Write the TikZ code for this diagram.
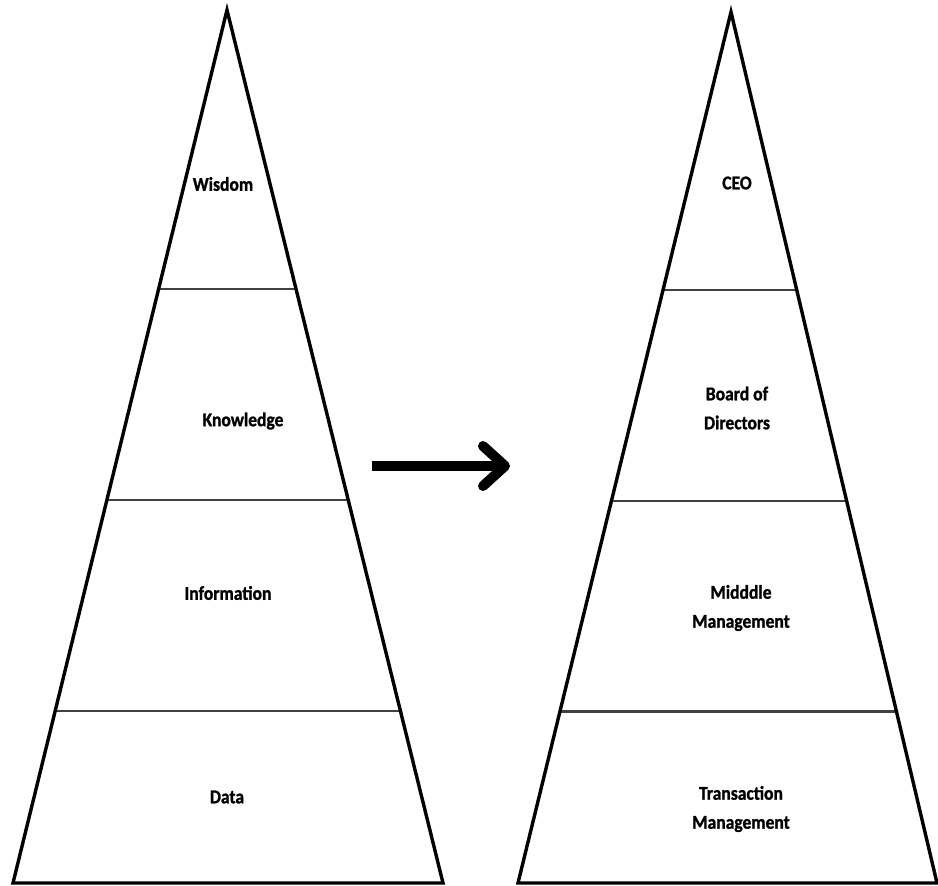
\documentclass[tikz,border=0pt]{standalone}
\usepackage{fontspec}
\setmainfont{Carlito}[FakeStretch=0.9,FakeBold=1.2]
\usetikzlibrary{calc}
\tikzset{
  edge/.style={line width=3.4pt, line join=miter, black},
  band/.style={line width=2.2pt, black!75},
  lbl/.style={font=\bfseries\fontsize{19.5}{29}\selectfont, align=center, inner sep=0pt},
  bigarrow/.style={line width=10pt, black}
}
\begin{document}
\begin{tikzpicture}[x=1pt,y=-1pt]
\useasboundingbox (0,0) rectangle (938,886);
% left triangle
\coordinate (LA) at (227,10);
\coordinate (LL) at (13,883);
\coordinate (LR) at (443,883);
% right triangle
\coordinate (RA) at (731,12);
\coordinate (RL) at (518,883);
\coordinate (RR) at (937,883);
\foreach \t/\n in {0.3196/1,0.5613/2,0.8030/3}{
  \coordinate (Ll\n) at ($(LA)!\t!(LL)$);
  \coordinate (Lr\n) at ($(LA)!\t!(LR)$);
  \coordinate (Rl\n) at ($(RA)!\t!(RL)$);
  \coordinate (Rr\n) at ($(RA)!\t!(RR)$);
}
\draw[band] (Ll1) -- (Lr1);
\draw[band] (Ll2) -- (Lr2);
\draw[band] (Ll3) -- (Lr3);
\draw[band] (Rl1) -- (Rr1);
\draw[band] (Rl2) -- (Rr2);
\draw[band] (Rl3) -- (Rr3);
\draw[edge] (LA) -- (LL) -- (LR) -- cycle;
\draw[edge] (RA) -- (RL) -- (RR) -- cycle;
% labels left
\node[lbl] (wis) at (223,184) {Wisdom};
\node[lbl] (kno) at (243,421) {Knowledge};
\node[lbl] (inf) at (228,593) {Information};
\node[lbl] (dat) at (227,797) {Data};
% labels right
\node[lbl] (ceo) at (737,183) {CEO};
\node[lbl] (bod) at (737,408) {Board of\\Directors};
\node[lbl] (mid) at (741,608) {Midddle\\Management};
\node[lbl] (tra) at (741,809) {Transaction\\Management};
% arrow
\coordinate (as) at (372,466);
\coordinate (at) at (505,466);
\coordinate (ah1) at (483,446);
\coordinate (ah2) at (483,486);
\draw[bigarrow] (as) -- (at);
\draw[bigarrow, line cap=round, line join=round] (ah1) -- (at) -- (ah2);
\end{tikzpicture}
\end{document}
